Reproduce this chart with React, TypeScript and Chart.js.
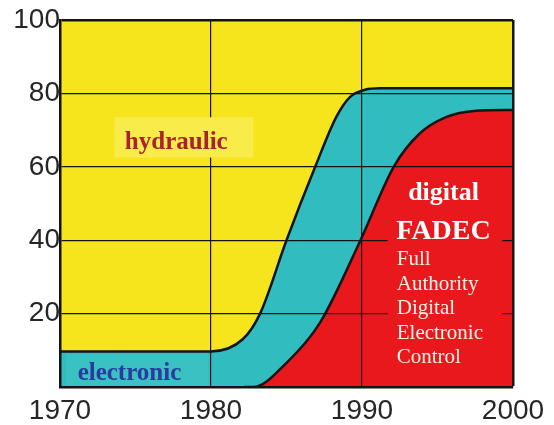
import React, { useEffect, useRef } from 'react';
import { Chart, registerables } from 'chart.js';

Chart.register(...registerables);

const xTicks = [1970, 1980, 1990, 2000];
const yTicks = [20, 40, 60, 80, 100];

const electronicYears = [1970, 1980, 1982.1, 1983.25, 1985, 1986.9, 1988.3, 1989.2, 1990.2, 1991.2, 2000];
const electronicShare = [9.7, 9.7, 13, 20, 40, 60, 73.6, 79, 81, 81.4, 81.4];

const digitalYears = [1982.2, 1982.8, 1985, 1987.2, 1989.9, 1992.1, 1993.8, 1995.6, 1997.4, 1999.6, 2000];
const digitalShare = [0, 0, 6.6, 17.4, 40, 60, 69, 73.6, 75.2, 75.5, 75.5];

const YELLOW = '#F6E51C';
const TEAL = '#31BDBF';
const RED = '#E8181D';
const LINE = '#141414';

const bgPlugin = {
  id: 'bgFill',
  beforeDatasetsDraw(chart: any) {
    const { ctx, chartArea: a } = chart;
    ctx.save();
    ctx.fillStyle = YELLOW;
    ctx.fillRect(a.left, a.top, a.right - a.left, a.bottom - a.top);
    ctx.restore();
  },
};

const labelPlugin = {
  id: 'areaLabels',
  afterDraw(chart: any) {
    const { ctx, scales } = chart;
    const xs = scales.x;
    const ys = scales.y;
    ctx.save();
    ctx.textAlign = 'center';
    ctx.textBaseline = 'middle';
    // hydraulic
    const hx = xs.getPixelForValue(1977.7);
    const hy = ys.getPixelForValue(66.5);
    ctx.fillStyle = '#F8EB4A';
    ctx.fillRect(xs.getPixelForValue(1973.6), ys.getPixelForValue(73.5), xs.getPixelForValue(1982.8) - xs.getPixelForValue(1973.6), ys.getPixelForValue(62.5) - ys.getPixelForValue(73.5));
    ctx.fillStyle = '#A8232B';
    ctx.font = 'bold 25px "Liberation Serif"';
    ctx.fillText('hydraulic', hx, hy);

    // electronic
    ctx.fillStyle = '#3AC1C2';
    ctx.fillRect(xs.getPixelForValue(1970.4), ys.getPixelForValue(9.0), xs.getPixelForValue(1979.8) - xs.getPixelForValue(1970.4), ys.getPixelForValue(0.4) - ys.getPixelForValue(9.0));
    ctx.fillStyle = '#2B3A9E';
    ctx.font = 'bold 25px "Liberation Serif"';
    ctx.fillText('electronic', xs.getPixelForValue(1974.6), ys.getPixelForValue(3.8));

    // digital FADEC box
    const bx0 = xs.getPixelForValue(1991.7);
    const bx1 = xs.getPixelForValue(1999.3);
    ctx.fillStyle = RED;
    ctx.fillRect(bx0, ys.getPixelForValue(47), bx1 - bx0, ys.getPixelForValue(4) - ys.getPixelForValue(47));
    const cx = xs.getPixelForValue(1995.4);
    ctx.fillStyle = '#FFFFFF';
    ctx.font = 'bold 26px "Liberation Serif"';
    ctx.fillText('digital', cx, ys.getPixelForValue(52.7));
    ctx.font = 'bold 28px "Liberation Serif"';
    ctx.fillText('FADEC', cx, ys.getPixelForValue(42.3));
    ctx.fillStyle = '#FBF4E6';
    ctx.font = '21px "Liberation Serif"';
    ctx.textAlign = 'left';
    const lx = xs.getPixelForValue(1992.3);
    const lines = ['Full', 'Authority', 'Digital', 'Electronic', 'Control'];
    const ly = [34.7, 28.0, 21.4, 14.7, 8.1];
    lines.forEach((t, i) => ctx.fillText(t, lx, ys.getPixelForValue(ly[i])));
    ctx.restore();
  },
};

export default function App() {
  const ref = useRef<HTMLCanvasElement | null>(null);

  useEffect(() => {
    if (!ref.current) return;
    const tickFont = { family: '"Liberation Sans", Arial, sans-serif', size: 28 };
    const chart = new Chart(ref.current, {
      type: 'line',
      data: {
        datasets: [
          {
            label: 'digital',
            data: digitalYears.map((x, i) => ({ x, y: digitalShare[i] })),
            borderColor: LINE,
            borderWidth: 2.5,
            backgroundColor: RED,
            fill: 'origin',
            pointRadius: 0,
            cubicInterpolationMode: 'monotone',
          },
          {
            label: 'electronic',
            data: electronicYears.map((x, i) => ({ x, y: electronicShare[i] })),
            borderColor: LINE,
            borderWidth: 2.5,
            backgroundColor: TEAL,
            fill: 'origin',
            pointRadius: 0,
            cubicInterpolationMode: 'monotone',
          },
        ],
      },
      options: {
        animation: false,
        responsive: true,
        maintainAspectRatio: false,
        layout: { padding: { left: 0, top: 20, right: 41, bottom: 0 } },
        plugins: { legend: { display: false }, tooltip: { enabled: false } },
        scales: {
          x: {
            type: 'linear',
            min: xTicks[0],
            max: xTicks[xTicks.length - 1],
            afterBuildTicks: (s: any) => {
              s.ticks = xTicks.map((v) => ({ value: v }));
            },
            afterFit: (s: any) => {
              s.height = 38;
            },
            ticks: {
              font: tickFont,
              color: '#262626',
              padding: 7,
              maxRotation: 0,
              autoSkip: false,
              callback: (v: any) => String(v),
            },
            grid: {
              z: 1,
              color: LINE,
              lineWidth: (c: any) => (c.tick && c.tick.value === 2000 ? 2.5 : 1.2),
              drawTicks: false,
            },
            border: { z: 2, color: LINE, width: 2.5 },
          },
          y: {
            min: 0,
            max: 100,
            afterBuildTicks: (s: any) => {
              s.ticks = [0, ...yTicks].map((v) => ({ value: v }));
            },
            afterFit: (s: any) => {
              s.width = 60;
            },
            ticks: {
              font: tickFont,
              color: '#262626',
              padding: 0,
              autoSkip: false,
              callback: (v: any) => (v === 0 ? '' : String(v)),
            },
            grid: {
              z: 1,
              color: LINE,
              lineWidth: (c: any) => (c.tick && c.tick.value === 100 ? 2.5 : 1.2),
              drawTicks: false,
            },
            border: { z: 2, color: LINE, width: 2.5 },
          },
        },
      },
      plugins: [bgPlugin, labelPlugin],
    } as any);
    return () => chart.destroy();
  }, []);

  return (
    <div style={{ position: 'fixed', left: 0, top: 0, width: 554, height: 425, background: '#fff' }}>
      <canvas ref={ref} />
    </div>
  );
}
